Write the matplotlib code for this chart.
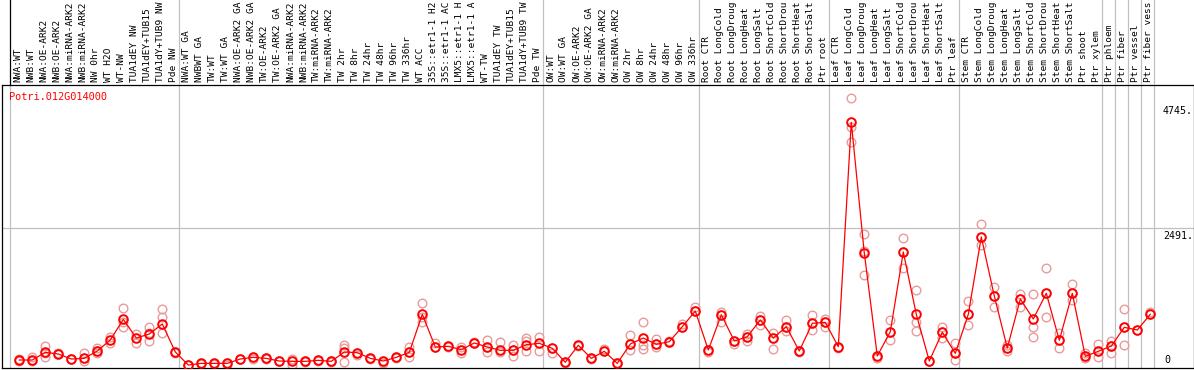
import numpy as np
import matplotlib
matplotlib.use("Agg")
import matplotlib.pyplot as plt

# gene shown
gene = "Potri.012G014000"

# sample labels, in plot order (as far as they are visible in the header)
labels = [
    "NWA:WT", "NWB:WT", "NWA:OE-ARK2", "NWB:OE-ARK2", "NWA:miRNA-ARK2", "NWB:miRNA-ARK2",
    "NW 0hr", "WT H2O", "WT-NW", "TUA1dEY NW", "TUA1dEY+TUB15", "TUA1dY+TUB9 NW", "Pde NW",
    "NWA:WT GA", "NWBWT GA", "TW:WT", "TW:WT GA", "NWA:OE-ARK2 GA", "NWB:OE-ARK2 GA",
    "TW:OE-ARK2", "TW:OE-ARK2 GA", "NWA:miRNA-ARK2", "NWB:miRNA-ARK2", "TW:miRNA-ARK2",
    "TW:miRNA-ARK2", "TW 2hr", "TW 8hr", "TW 24hr", "TW 48hr", "TW 96hr", "TW 336hr", "WT ACC",
    "35S::etr1-1 H2", "35S::etr1-1 AC", "LMX5::etr1-1 H", "LMX5::etr1-1 A", "WT-TW",
    "TUA1dEY TW", "TUA1dEY+TUB15", "TUA1dY+TUB9 TW", "Pde TW",
    "OW:WT", "OW:WT GA", "OW:OE-ARK2", "OW:OE-ARK2 GA", "OW:miRNA-ARK2", "OW:miRNA-ARK2",
    "OW 2hr", "OW 8hr", "OW 24hr", "OW 48hr", "OW 96hr", "OW 336hr",
    "Root CTR", "Root LongCold", "Root LongDroug", "Root LongHeat", "Root LongSalt",
    "Root ShortCold", "Root ShortDrou", "Root ShortHeat", "Root ShortSalt", "Ptr root",
    "Leaf CTR", "Leaf LongCold", "Leaf LongDroug", "Leaf LongHeat", "Leaf LongSalt",
    "Leaf ShortCold", "Leaf ShortDrou", "Leaf ShortHeat", "Leaf ShortSalt", "Ptr leaf",
    "Stem CTR", "Stem LongCold", "Stem LongDroug", "Stem LongHeat", "Stem LongSalt",
    "Stem ShortCold", "Stem ShortDrou", "Stem ShortHeat", "Stem ShortSalt", "Ptr shoot",
    "Ptr xylem", "Ptr phloem", "Ptr fiber", "Ptr vessel", "Ptr fiber vess",
]

# number of samples in each block (separated by grey lines)
group_sizes = [13, 28, 12, 10, 10, 11, 1, 1, 1, 1]

# mean expression per sample
means = [
    120, 120, 258, 228, 138, 150, 282, 480, 851, 515, 587, 767, 264,
    30, 60, 60, 60, 138, 168, 150, 102, 96, 96, 114, 96, 264, 252, 150, 102, 168,
    258, 941, 354, 366, 305, 426, 354, 294, 294, 395, 420,
    330, 79, 384, 150, 276, 60, 408, 515, 402, 449, 718, 1000,
    300, 934, 462, 539, 839, 515, 718, 282, 779, 797,
    359, 4389, 2042, 192, 629, 2060, 941, 102, 618, 240,
    941, 2329, 1270, 336, 1216, 857, 1318, 474, 1318, 186, 276,
    371, 707, 659, 941,
]

# replicate values per sample
reps = [
    [110, 130], [110, 169], [378, 180, 240], [228, 240], [138, 130], [252, 102, 150],
    [342, 240, 282], [539, 419], [1054, 719, 800], [587, 431], [707, 456, 600],
    [1042, 887, 600], [264, 250],
    [30, 24], [60, 50], [60, 55], [24, 60], [138, 130], [132, 168], [150, 140], [102, 95],
    [132, 30], [96, 90], [114, 105], [96, 90], [384, 84, 330], [204, 252], [150, 140],
    [60, 102], [168, 160], [360, 180, 258], [1138, 809, 900], [419, 354], [366, 350],
    [360, 252], [450, 426], [474, 270, 354], [438, 258], [389, 198, 294], [509, 461, 282],
    [539, 288],
    [330, 252], [79, 70], [384, 370], [150, 140], [318, 276], [60, 50], [569, 300, 408],
    [797, 389, 312], [497, 348, 402], [467, 449], [761, 718], [1066, 1000],
    [258, 300], [988, 803, 934], [402, 462], [587, 461, 539], [916, 743, 839],
    [605, 312, 515], [839, 641, 718], [282, 270], [929, 659, 779], [850, 719, 797],
    [341, 359], [4820, 4311, 4041], [2383, 2084, 1647], [150, 192], [839, 479, 629],
    [2305, 1767, 2060], [1378, 797, 641], [102, 95], [719, 521, 618], [420, 120, 240],
    [1180, 743, 941], [2557, 2186, 2329], [1437, 1078, 1270], [390, 288, 336],
    [1300, 1078, 1216], [1300, 707, 527], [1767, 898, 1318], [600, 335, 474],
    [1479, 1197, 1318], [240, 150, 186], [408, 168, 276],
    [461, 240, 371], [1030, 384, 707], [659], [989, 941],
]

# value ticks shown on the right
ytick_vals = [4745, 2491, 0]
ytick_text = ["4745.", "2491.", "0"]

W, H = 1194, 370
fig = plt.figure(figsize=(W / 100, H / 100), dpi=100)
mono = "DejaVu Sans Mono"
grey = "#c0c0c0"
red = "#ff0000"
pink = "#e99a9a"

# x: sample i sits at pixel 19.3 + 13*i
def px2x(p):
    return (p - 19.3) / 13.0

x0, x1 = px2x(1.5), px2x(1193.5)
# y: value 0 at pixel 366.7, 0.05568 px per unit
def py2v(p):
    return (366.7 - p) / 0.05568

ax = fig.add_axes([1.5 / W, (H - 368) / H, 1192 / W, (368 - 85) / H])
ax.set_xlim(x0, x1)
ax.set_ylim(py2v(368), py2v(85))
ax.set_xticks([])
ax.set_yticks([])
for s in ax.spines.values():
    s.set_color("black")
    s.set_linewidth(0.9)

top = fig.add_axes([1.5 / W, (H - 85) / H, 1192 / W, 85 / H])
top.set_xlim(x0, x1)
top.set_ylim(0, 85)
top.axis("off")

# block separators
bounds = np.concatenate([[0], np.cumsum(group_sizes)]) - 0.715
for k, b in enumerate(bounds):
    ax.axvline(b, color=grey, lw=0.9, zorder=0)
    top.axvline(b, color="black" if k == 0 else grey, lw=0.9)
ax.axhline(2491, color=grey, lw=0.9, zorder=0)

xs = np.arange(len(means))
for i, r in enumerate(reps):
    ax.plot([i] * len(r), r, ls="none", marker="o", ms=6.2, mfc="none",
            mec=pink, mew=1.0, zorder=2)
ax.plot(xs, means, color=red, lw=0.9, zorder=3)
ax.plot(xs, means, ls="none", marker="o", ms=6.2, mfc="none", mec=red,
        mew=1.4, zorder=4)

for i, lab in enumerate(labels):
    top.text(i - 0.12, 3, lab, rotation=90, ha="center", va="bottom",
             family=mono, fontsize=6.8, color="black")

ax.text(px2x(9), py2v(96.5), gene, color=red, family=mono, fontsize=7.4,
        ha="left", va="center")

for v, t in zip(ytick_vals, ytick_text):
    if v == 0:
        ax.text(px2x(1164), py2v(365), t, family=mono, fontsize=7.2,
                ha="left", va="bottom")
    else:
        ax.text(px2x(1163), v - 60, t, family=mono, fontsize=7.2, ha="left",
                va="top")

fig.savefig("out.png", dpi=100)
